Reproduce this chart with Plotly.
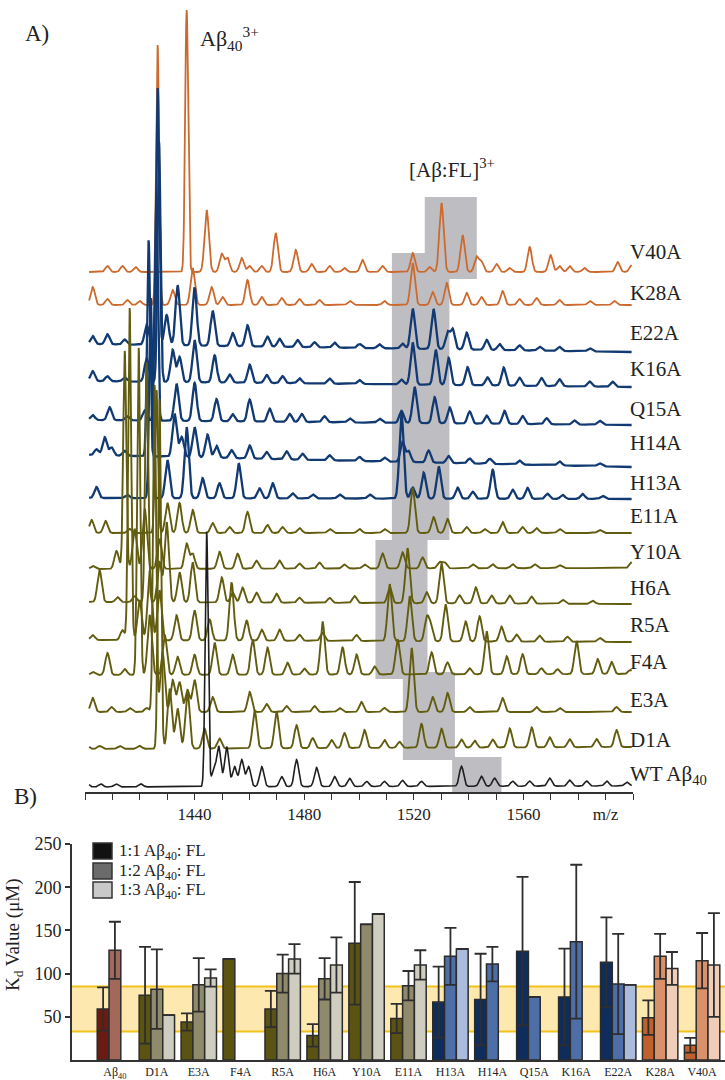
import numpy as np
import plotly.graph_objects as go

# ---------------- Panel A data: peak lists (m/z, height in px) ----------------
v40a_peaks = [(1408.2, 6), (1413.7, 6), (1418.5, 5), (1437.1, 262), (1444.4, 62), (1449.9, 18), (1452.0, 14),
              (1457.2, 14), (1460.1, 6), (1464.5, 6), (1469.6, 39), (1476.9, 22), (1482.7, 8), (1489.3, 6),
              (1494.7, 4), (1501.3, 12), (1508.6, 6), (1519.6, 19), (1525.8, 5), (1530.1, 69), (1537.8, 37),
              (1542.9, 15), (1544.7, 10), (1550.2, 8), (1555.0, 4), (1562.3, 25), (1569.9, 17), (1573.2, 6),
              (1576.9, 6), (1582.3, 4), (1594.4, 10), (1599.5, 7)]
k28a_peaks = [(1402.8, 18), (1408.2, 6), (1415.5, 5), (1420.0, 4), (1426.5, 260), (1432.0, 15), (1439.3, 37),
              (1446.2, 18), (1450.2, 8), (1459.3, 25), (1464.5, 8), (1471.8, 7), (1478.3, 6), (1485.6, 5),
              (1496.6, 4), (1509.3, 4), (1519.6, 42), (1526.9, 13), (1532.0, 22), (1539.3, 12), (1544.7, 8),
              (1552.4, 14), (1558.6, 6), (1564.8, 7), (1573.2, 5), (1584.2, 4), (1593.3, 4)]
e22a_peaks = [(1402.8, 8), (1408.2, 10), (1414.5, 5), (1422.5, 20), (1426.5, 257), (1429.8, 30), (1433.8, 60),
              (1440.0, 58), (1446.6, 35), (1453.9, 13), (1459.3, 21), (1466.6, 10), (1471.0, 8), (1477.6, 7),
              (1483.8, 5), (1491.1, 5), (1500.2, 4), (1507.5, 4), (1515.9, 5), (1519.6, 40), (1527.2, 40),
              (1532.3, 17), (1534.2, 20), (1539.3, 17), (1546.6, 10), (1551.3, 6), (1558.6, 5), (1565.9, 4),
              (1573.2, 4), (1584.2, 3)]
k16a_peaks = [(1402.8, 10), (1408.2, 5), (1414.5, 4), (1422.5, 23), (1427.0, 240), (1432.0, 32), (1434.5, 25),
              (1440.0, 42), (1447.3, 27), (1452.8, 8), (1460.1, 18), (1466.3, 8), (1472.1, 7), (1478.3, 5),
              (1489.3, 5), (1500.2, 4), (1515.5, 5), (1519.6, 42), (1528.0, 35), (1532.7, 27), (1539.6, 18),
              (1546.9, 8), (1552.8, 18), (1558.6, 8), (1566.6, 8), (1573.2, 7), (1584.2, 5), (1592.6, 5)]
q15a_peaks = [(1402.8, 5), (1409.0, 13), (1415.5, 4), (1421.8, 10), (1426.0, 220), (1433.4, 37), (1440.0, 38),
              (1448.0, 22), (1453.9, 7), (1460.1, 22), (1467.4, 13), (1474.7, 8), (1479.1, 8), (1487.4, 6),
              (1496.6, 4), (1507.5, 4), (1515.5, 12), (1520.3, 36), (1527.6, 26), (1533.1, 16), (1540.4, 12),
              (1546.6, 8), (1553.1, 13), (1559.7, 8), (1568.5, 6), (1578.7, 4), (1587.8, 4)]
h14a_peaks = [(1404.2, 6), (1407.2, 18), (1409.7, 8), (1414.5, 5), (1423.2, 216), (1432.7, 43), (1435.3, 20),
              (1440.0, 30), (1444.7, 23), (1448.0, 12), (1453.5, 8), (1460.1, 13), (1466.3, 7), (1473.6, 8),
              (1479.4, 6), (1489.3, 5), (1500.2, 4), (1509.3, 4), (1515.9, 20), (1518.1, 11), (1525.4, 12),
              (1532.7, 7), (1540.4, 5), (1547.7, 5), (1558.6, 4), (1573.2, 4), (1587.8, 3)]
h13a_peaks = [(1404.2, 11), (1415.5, 3), (1424.0, 200), (1430.1, 38), (1437.1, 71), (1442.9, 20), (1449.1, 15),
              (1456.1, 35), (1463.7, 10), (1468.5, 15), (1475.8, 5), (1483.1, 4), (1492.9, 4), (1503.9, 4),
              (1515.5, 85), (1519.6, 11), (1523.6, 26), (1529.1, 32), (1536.0, 11), (1541.5, 7), (1548.8, 29),
              (1556.1, 9), (1561.5, 11), (1568.8, 5), (1574.3, 4), (1581.6, 5), (1588.9, 3)]
e11a_peaks = [(1402.4, 13), (1407.5, 12), (1416.3, 4), (1426.1, 143), (1430.1, 30), (1434.5, 30), (1439.3, 23),
              (1446.6, 10), (1452.8, 6), (1459.3, 21), (1466.6, 8), (1472.1, 6), (1478.3, 5), (1489.3, 4),
              (1500.2, 4), (1509.3, 4), (1519.6, 45), (1527.2, 16), (1532.3, 14), (1539.3, 6), (1545.8, 4),
              (1552.4, 11), (1559.7, 6), (1564.8, 5), (1573.2, 4), (1587.8, 3)]
y10a_peaks = [(1402.8, 3), (1411.5, 18), (1414.5, 218), (1418.1, 40), (1421.8, 60), (1427.2, 30), (1437.1, 25),
              (1439.3, 15), (1449.1, 17), (1455.7, 15), (1462.6, 8), (1471.0, 8), (1478.3, 5), (1485.6, 6),
              (1494.7, 4), (1502.0, 4), (1508.6, 15), (1515.9, 16), (1523.2, 11), (1529.4, 6), (1531.2, 6),
              (1541.5, 4), (1548.8, 4), (1556.1, 4), (1564.1, 4), (1573.2, 3), (1599.5, 6)]
h6a_peaks = [(1405.3, 32), (1411.9, 5), (1418.1, 6), (1422.5, 240), (1427.2, 40), (1429.8, 80), (1434.5, 30),
             (1439.3, 40), (1449.9, 25), (1453.9, 10), (1457.5, 15), (1462.6, 10), (1469.9, 9), (1478.3, 5),
             (1489.3, 5), (1498.4, 7), (1511.2, 16), (1517.7, 55), (1524.7, 11), (1530.1, 40), (1536.7, 8),
             (1542.6, 16), (1548.4, 8), (1555.0, 8), (1563.0, 7), (1574.3, 4), (1585.3, 3)]
r5a_peaks = [(1402.8, 5), (1413.7, 10), (1416.3, 332), (1419.9, 40), (1423.6, 70), (1427.2, 50), (1433.4, 25),
             (1440.0, 30), (1445.5, 21), (1453.5, 58), (1459.0, 20), (1464.5, 11), (1471.0, 11), (1478.3, 6),
             (1486.7, 8), (1499.1, 6), (1511.2, 57), (1518.5, 45), (1524.7, 22), (1526.1, 15), (1531.6, 37),
             (1538.9, 20), (1544.0, 25), (1552.0, 15), (1557.5, 7), (1565.9, 6), (1576.1, 5), (1587.8, 4)]
f4a_peaks = [(1402.8, 3), (1408.2, 22), (1414.5, 6), (1419.6, 327), (1423.6, 60), (1429.1, 40), (1433.8, 18),
             (1440.0, 20), (1447.3, 32), (1453.9, 20), (1461.2, 35), (1466.6, 27), (1473.9, 12), (1480.1, 6),
             (1486.7, 53), (1494.0, 27), (1499.1, 20), (1505.7, 8), (1514.1, 35), (1526.5, 22), (1532.3, 12),
             (1540.4, 6), (1546.6, 43), (1553.9, 18), (1559.7, 20), (1566.6, 6), (1572.5, 5), (1579.4, 33),
             (1587.1, 15), (1592.2, 12), (1599.0, 4)]
e3a_peaks = [(1402.8, 14), (1409.7, 5), (1416.3, 4), (1422.5, 4), (1425.4, 327), (1428.3, 60), (1432.0, 32),
             (1434.5, 30), (1437.4, 22), (1440.0, 32), (1446.6, 15), (1460.1, 20), (1466.3, 8), (1473.6, 6),
             (1483.8, 6), (1492.9, 4), (1500.9, 10), (1509.3, 4), (1519.2, 64), (1526.9, 15), (1532.3, 19),
             (1540.4, 5), (1552.4, 14), (1564.8, 5), (1573.2, 4), (1594.0, 5)]
d1a_peaks = [(1400.7, 4), (1405.3, 3), (1412.6, 3), (1419.9, 3), (1427.2, 350), (1430.9, 60), (1433.8, 40),
             (1437.4, 57), (1443.6, 20), (1449.1, 10), (1461.9, 38), (1469.9, 37), (1477.2, 23), (1483.1, 10),
             (1490.0, 8), (1494.7, 15), (1502.0, 18), (1509.3, 8), (1514.8, 6), (1522.8, 24), (1530.1, 19),
             (1537.4, 8), (1542.2, 7), (1548.8, 8), (1555.0, 19), (1563.0, 20), (1569.6, 10), (1576.9, 8),
             (1586.7, 8), (1594.0, 17)]
wt_peaks = [(1400.7, 4), (1405.8, 3), (1411.3, 3), (1420.4, 3), (1444.4, 255), (1446.9, 15), (1448.8, 40),
            (1451.7, 40), (1454.6, 20), (1457.2, 27), (1459.7, 20), (1464.5, 20), (1471.8, 10), (1477.2, 27),
            (1484.5, 19), (1491.1, 10), (1496.6, 8), (1502.8, 5), (1509.3, 5), (1515.9, 6), (1522.8, 5),
            (1537.4, 20), (1544.7, 10), (1549.5, 8), (1556.1, 5), (1562.3, 5), (1569.6, 8), (1576.9, 6),
            (1583.1, 5), (1590.4, 5), (1597.7, 4)]

spectra_names = ["V40A", "K28A", "E22A", "K16A", "Q15A", "H14A", "H13A", "E11A",
                 "Y10A", "H6A", "R5A", "F4A", "E3A", "D1A", "WT Aβ<sub>40</sub>"]
spectra_peaks = [v40a_peaks, k28a_peaks, e22a_peaks, k16a_peaks, q15a_peaks, h14a_peaks, h13a_peaks,
                 e11a_peaks, y10a_peaks, h6a_peaks, r5a_peaks, f4a_peaks, e3a_peaks, d1a_peaks, wt_peaks]

# axis ticks of panel A
mz_labelled = [1440, 1480, 1520, 1560, 1590]
mz_labels = ["1440", "1480", "1520", "1560", "m/z"]

# complex [Aβ:FL]3+ highlighted regions (m/z from, m/z to)
box_mz = [(1524, 1543), (1512, 1533), (1506, 1525), (1516, 1535), (1534, 1552)]

# ---------------- Panel B data ----------------
categories = ["Aβ<sub>40</sub>", "D1A", "E3A", "F4A", "R5A", "H6A", "Y10A", "E11A",
              "H13A", "H14A", "Q15A", "K16A", "E22A", "K28A", "V40A"]
kd_1to1 = [59, 75, 44, 117, 59, 28.5, 135, 48, 67, 70, 126, 73, 113, 49, 17]
err_1to1 = [25, 56, 10, None, 21, 13, 71, 17, 41, 53, 86, 56, 52, 20, 8.5]
kd_1to2 = [127, 82, 87, None, 100, 94, 157, 86, 120, 111, 73, 137, 88, 120, 115]
err_1to2 = [33, 46, 31, None, 22, 24, None, 17, 33, 20, None, 89, 58, 26, 32]
kd_1to3 = [None, 52, 95, None, 117, 110, 169, 110, 128.5, None, None, None, 87, 106, 110]
err_1to3 = [None, None, 10, None, 17, 32, None, 17, None, None, None, None, None, 19, 60]
band_low, band_high = 33, 85
legend_labels = ["1:1 Aβ<sub>40</sub>: FL", "1:2 Aβ<sub>40</sub>: FL", "1:3 Aβ<sub>40</sub>: FL"]

# ---------------- styles ----------------
W, H = 725, 1080
SERIF = "Liberation Serif"
ORANGE, BLUE, OLIVE, BLACK = "#cc6a2e", "#123a72", "#625c0e", "#1e1e1e"
trace_colors = [ORANGE, ORANGE, BLUE, BLUE, BLUE, BLUE, BLUE,
                OLIVE, OLIVE, OLIVE, OLIVE, OLIVE, OLIVE, OLIVE, BLACK]
trace_widths = [1.8, 1.8, 2.3, 2.3, 2.3, 2.3, 2.3, 1.9, 1.9, 1.9, 1.9, 1.9, 1.9, 1.9, 1.6]
# baseline pixel rows (left end, right end) and label rows
baseline_px = [(272, 272), (305, 305), (344, 352), (381, 387), (420, 425), (455, 467), (498, 499),
               (533, 533), (569, 568), (602, 604), (640, 642), (675, 674), (712, 712), (749, 747), (787, 786)]
label_px = [252, 293, 333, 369, 409, 443, 483, 516, 552, 588, 625, 662, 700, 740, 775]
box_px = [(197, 279), (253, 540), (540, 679), (672, 760), (757, 792)]

group_cols = {"ab": ("#6a1c12", "#a2695b", "#d8c0b8"),
              "ol": ("#5a5312", "#8e8a6b", "#cfcdc0"),
              "bl": ("#0f2d5c", "#4d6ea6", "#aabbdb"),
              "or": ("#c0602c", "#da9169", "#efcdb8")}
cat_group = ["ab", "ol", "ol", "ol", "ol", "ol", "ol", "ol", "bl", "bl", "bl", "bl", "bl", "or", "or"]
legend_cols = ["#111111", "#6b6b6b", "#c9c9c9"]

A_TOP, A_BOT = 0, 792          # pixel rows of panel A plot area
A_LEFT, A_RIGHT = 85, 633
B_TOP, B_BOT = 844, 1060
B_LEFT, B_RIGHT = 72, 725


def py(p):
    return 1 - p / H


def px(p):
    return p / W


fig = go.Figure()

# ---------------- Panel A spectra ----------------
mz_grid = np.arange(1401.5, 1599.55, 0.1)
for i in range(len(spectra_names)):
    bl, br = baseline_px[i]
    y = np.interp(mz_grid, [mz_grid[0], mz_grid[-1]], [A_BOT - bl, A_BOT - br])
    for m, h in spectra_peaks[i]:
        sig = 0.55 if h > 100 else 0.78
        y = y + h * np.exp(-0.5 * ((mz_grid - m) / sig) ** 2)
    fig.add_trace(go.Scatter(x=mz_grid, y=y, mode="lines", name=spectra_names[i],
                             line=dict(color=trace_colors[i], width=trace_widths[i]),
                             xaxis="x", yaxis="y", showlegend=False, hoverinfo="skip"))

shapes = []
for (m0, m1), (p0, p1) in zip(box_mz, box_px):
    shapes.append(dict(type="rect", xref="x", yref="y", x0=m0, x1=m1, y0=A_BOT - p1, y1=A_BOT - p0,
                       fillcolor="#bebec2", line=dict(width=0), layer="below"))

annotations = []
for name, lp in zip(spectra_names, label_px):
    annotations.append(dict(text=name, x=px(628), y=py(lp), xref="paper", yref="paper",
                            xanchor="left", yanchor="middle", showarrow=False,
                            font=dict(family=SERIF, size=21, color="#222")))
annotations += [
    dict(text="A)", x=px(23), y=py(34), xref="paper", yref="paper", xanchor="left", yanchor="middle",
         showarrow=False, font=dict(family=SERIF, size=23, color="#222")),
    dict(text="Aβ<sub>40</sub><sup>3+</sup>", x=px(198), y=py(38), xref="paper", yref="paper",
         xanchor="left", yanchor="middle", showarrow=False, font=dict(family=SERIF, size=22, color="#222")),
    dict(text="[Aβ:FL]<sup>3+</sup>", x=px(452), y=py(168), xref="paper", yref="paper",
         xanchor="center", yanchor="middle", showarrow=False, font=dict(family=SERIF, size=21, color="#222")),
    dict(text="B)", x=px(12), y=py(796), xref="paper", yref="paper", xanchor="left", yanchor="middle",
         showarrow=False, font=dict(family=SERIF, size=23, color="#222")),
    dict(text="K<sub>d</sub> Value (μM)", x=px(14), y=py(935), xref="paper", yref="paper",
         xanchor="center", yanchor="middle", textangle=-90, showarrow=False,
         font=dict(family=SERIF, size=19, color="#222")),
]

# ---------------- Panel B bars ----------------
series = [(kd_1to1, err_1to1, 0), (kd_1to2, err_1to2, 1), (kd_1to3, err_1to3, 2)]
for vals, errs, k in series:
    cols = [group_cols[g][k] for g in cat_group]
    fig.add_trace(go.Bar(x=categories, y=vals, name=legend_labels[k],
                         marker=dict(color=cols, line=dict(color="#2b2b2b", width=1.5)),
                         error_y=dict(type="data", array=errs, visible=True, color="#2e2e2e",
                                      thickness=1.8, width=6),
                         xaxis="x2", yaxis="y2", showlegend=False, hoverinfo="skip"))

# yellow band
shapes.append(dict(type="rect", xref="x2 domain", yref="y2", x0=0, x1=1, y0=band_low, y1=band_high,
                   fillcolor="#fde8b0", line=dict(width=0), layer="below"))
for yv in (band_low, band_high):
    shapes.append(dict(type="line", xref="x2 domain", yref="y2", x0=0, x1=1, y0=yv, y1=yv,
                       line=dict(color="#f1c21c", width=2), layer="below"))

# manual legend
sw_rows = [(843, 859), (863, 879), (882, 898)]
for (r0, r1), col, lab in zip(sw_rows, legend_cols, legend_labels):
    shapes.append(dict(type="rect", xref="paper", yref="paper", x0=px(93), x1=px(112), y0=py(r1), y1=py(r0),
                       fillcolor=col, line=dict(color="#333333", width=1.5)))
    annotations.append(dict(text=lab, x=px(117), y=py((r0 + r1) / 2 + 1), xref="paper", yref="paper",
                            xanchor="left", yanchor="middle", showarrow=False,
                            font=dict(family=SERIF, size=17, color="#222")))

fig.update_layout(
    width=W, height=H, margin=dict(l=0, r=0, t=0, b=0),
    paper_bgcolor="white", plot_bgcolor="rgba(0,0,0,0)",
    barmode="group", bargap=0.156, bargroupgap=0,
    shapes=shapes, annotations=annotations, showlegend=False,
    xaxis=dict(domain=[px(A_LEFT), px(A_RIGHT)], range=[1400, 1600], anchor="y",
               showline=True, linecolor="#333", linewidth=1.5, ticks="outside", ticklen=6,
               tickwidth=1.2, tickcolor="#333", tickvals=mz_labelled, ticktext=mz_labels,
               minor=dict(tick0=1400, dtick=10, ticks="outside", ticklen=6, tickwidth=1.2, tickcolor="#333"),
               tickfont=dict(family=SERIF, size=17, color="#222"), showgrid=False, zeroline=False,
               automargin=False),
    yaxis=dict(domain=[py(A_BOT), py(A_TOP)], range=[0, A_BOT], visible=False, anchor="x"),
    xaxis2=dict(domain=[px(B_LEFT), px(B_RIGHT)], range=[-1.023, 14.546], anchor="y2", type="category",
                showline=True, linecolor="#333", linewidth=1.8, ticks="", showgrid=False, zeroline=False,
                tickfont=dict(family=SERIF, size=12, color="#222"), automargin=False),
    yaxis2=dict(domain=[py(B_BOT), py(B_TOP)], range=[0, 250], anchor="x2",
                showline=True, linecolor="#333", linewidth=1.8, ticks="outside", ticklen=5,
                tickwidth=1.5, tickcolor="#333", tickvals=[50, 100, 150, 200, 250],
                tickfont=dict(family=SERIF, size=18, color="#222"), showgrid=False, zeroline=False,
                automargin=False),
)

fig.write_html("out.html")
